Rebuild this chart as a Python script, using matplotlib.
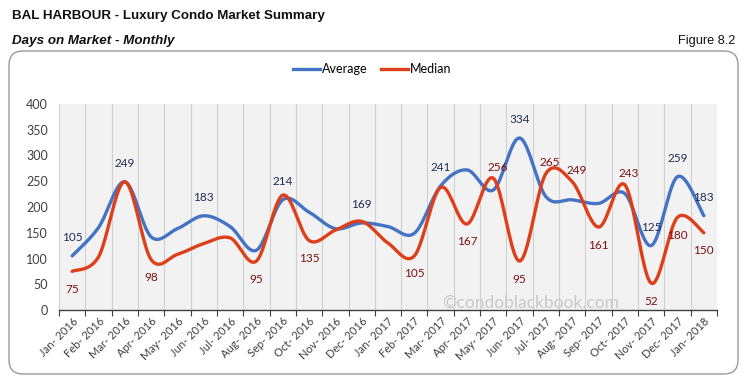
import numpy as np
import matplotlib
matplotlib.use("Agg")
import matplotlib.pyplot as plt
from matplotlib.patches import FancyBboxPatch
from matplotlib.lines import Line2D

months = ["Jan- 2016", "Feb- 2016", "Mar- 2016", "Apr- 2016", "May- 2016", "Jun- 2016",
          "Jul- 2016", "Aug- 2016", "Sep- 2016", "Oct- 2016", "Nov- 2016", "Dec- 2016",
          "Jan- 2017", "Feb- 2017", "Mar- 2017", "Apr- 2017", "May- 2017", "Jun- 2017",
          "Jul- 2017", "Aug- 2017", "Sep- 2017", "Oct- 2017", "Nov- 2017", "Dec- 2017",
          "Jan- 2018"]
average = [105, 160, 249, 142, 158, 183, 162, 116, 214, 190, 158, 169,
           162, 149, 241, 272, 233, 334, 220, 214, 207, 226, 125, 259, 183]
median = [75, 103, 249, 98, 108, 129, 140, 95, 223, 135, 155, 172,
          130, 105, 238, 167, 256, 95, 265, 249, 161, 243, 52, 180, 150]
avg_labels = {0: "105", 2: "249", 5: "183", 8: "214", 11: "169", 14: "241",
              17: "334", 22: "125", 23: "259", 24: "183"}
med_labels = {0: "75", 3: "98", 7: "95", 9: "135", 13: "105", 15: "167", 16: "256",
              17: "95", 18: "265", 19: "249", 20: "161", 21: "243", 22: "52",
              23: "180", 24: "150"}
med_above = [16, 18, 19, 21]
yticks = [0, 50, 100, 150, 200, 250, 300, 350, 400]

BLUE = "#4472C4"
RED = "#DD3F1A"
BLUE_TXT = "#1F2D55"
RED_TXT = "#7A1010"
FONT = ["Lato", "DejaVu Sans"]
NARROW = ["Liberation Sans Narrow", "Liberation Sans", "DejaVu Sans"]


def smooth(y, n=20):
    y = np.asarray(y, float)
    x = np.arange(len(y), dtype=float)
    px = np.concatenate([[x[0]], x, [x[-1]]])
    py = np.concatenate([[y[0]], y, [y[-1]]])
    xs, ys = [], []
    t = np.linspace(0, 1, n, endpoint=False)

    def bez(a, b1, b2, c):
        return ((1 - t) ** 3 * a + 3 * (1 - t) ** 2 * t * b1
                + 3 * (1 - t) * t ** 2 * b2 + t ** 3 * c)

    for i in range(1, len(px) - 2):
        p0, p1, p2, p3 = py[i - 1], py[i], py[i + 1], py[i + 2]
        q0, q1, q2, q3 = px[i - 1], px[i], px[i + 1], px[i + 2]
        xs.append(bez(q1, q1 + (q2 - q0) / 6, q2 - (q3 - q1) / 6, q2))
        ys.append(bez(p1, p1 + (p2 - p0) / 6, p2 - (p3 - p1) / 6, p2))
    xs.append([x[-1]])
    ys.append([y[-1]])
    return np.concatenate(xs), np.concatenate(ys)


fig = plt.figure(figsize=(7.46, 3.81), dpi=100)
W, H = 746, 381


def fx(px):
    return px / W


def fy(py):
    return 1 - py / H


# Background axes for the rounded frame
bg = fig.add_axes([0, 0, 1, 1], zorder=-5)
bg.set_xlim(0, W)
bg.set_ylim(H, 0)
bg.axis("off")
box = FancyBboxPatch((9, 51), 729, 323, boxstyle="round,pad=0,rounding_size=14",
                     facecolor="white", edgecolor="#9a9a9a", linewidth=1.0)
bg.add_patch(box)

# Titles
fig.text(fx(12), fy(16), "BAL HARBOUR - Luxury Condo Market Summary", family=NARROW,
         fontsize=9.6, fontweight="bold", va="center", ha="left", color="#111111")
fig.text(fx(12), fy(41), "Days on Market - Monthly", family=NARROW,
         fontsize=9.6, fontweight="bold", style="italic", va="center", ha="left", color="#111111")
fig.text(fx(735), fy(41), "Figure 8.2", family=NARROW,
         fontsize=9.2, va="center", ha="right", color="#111111")

ax = fig.add_axes([fx(59), fy(310), (717 - 59) / W, (310 - 104) / H], zorder=1)
ax.set_facecolor("#F2F2F2")
n = len(months)
ax.set_xlim(-0.5, n - 0.5)
ax.set_ylim(0, 400)

for i in range(n + 1):
    ax.axvline(i - 0.5, color="#D0D0D0", lw=0.8, zorder=0)

sx, sy = smooth(average)
ax.plot(sx, sy, color=BLUE, lw=2.4, solid_capstyle="round", zorder=3)
sx2, sy2 = smooth(median)
ax.plot(sx2, sy2, color=RED, lw=2.4, solid_capstyle="round", zorder=4)

for i, t in avg_labels.items():
    ax.annotate(t, (i, average[i]), xytext=(0, 9), textcoords="offset points",
                ha="center", va="bottom", fontsize=8.5, color=BLUE_TXT, family=FONT, zorder=5)
for i, t in med_labels.items():
    if i in med_above:
        ax.annotate(t, (i, median[i]), xytext=(3, 4), textcoords="offset points",
                    ha="center", va="bottom", fontsize=8.5, color=RED_TXT, family=FONT, zorder=5)
    else:
        ax.annotate(t, (i, median[i]), xytext=(0, -9), textcoords="offset points",
                    ha="center", va="top", fontsize=8.5, color=RED_TXT, family=FONT, zorder=5)

ax.text(0.716, 0.036, "\u00a9condoblackbook.com", transform=ax.transAxes, ha="center",
        va="center", fontsize=12.5, color="#C8C8C8", family=FONT, zorder=2)

ax.set_yticks(yticks)
ax.set_yticklabels([str(v) for v in yticks], family=FONT, fontsize=9, color="#404040")
ax.set_xticks(np.arange(n))
ax.set_xticklabels(months, rotation=45, ha="right", rotation_mode="anchor",
                   family=FONT, fontsize=8, color="#404040")
ax.set_xticks(np.arange(n + 1) - 0.5, minor=True)
ax.tick_params(axis="x", which="major", length=0, pad=4)
ax.tick_params(axis="x", which="minor", length=4, color="#404040", width=0.8)
ax.tick_params(axis="y", length=0, pad=8)
for s in ["left", "right", "top"]:
    ax.spines[s].set_visible(False)
ax.spines["bottom"].set_color("#404040")
ax.spines["bottom"].set_linewidth(1.0)

handles = [Line2D([], [], color=BLUE, lw=2.4), Line2D([], [], color=RED, lw=2.4)]
fig.legend(handles, ["Average", "Median"], loc="center", bbox_to_anchor=(fx(372), fy(69)),
           ncol=2, frameon=False, prop={"family": FONT, "size": 9},
           handlelength=2.2, handletextpad=0.15, columnspacing=1.05)

fig.savefig("out.png", dpi=100)
